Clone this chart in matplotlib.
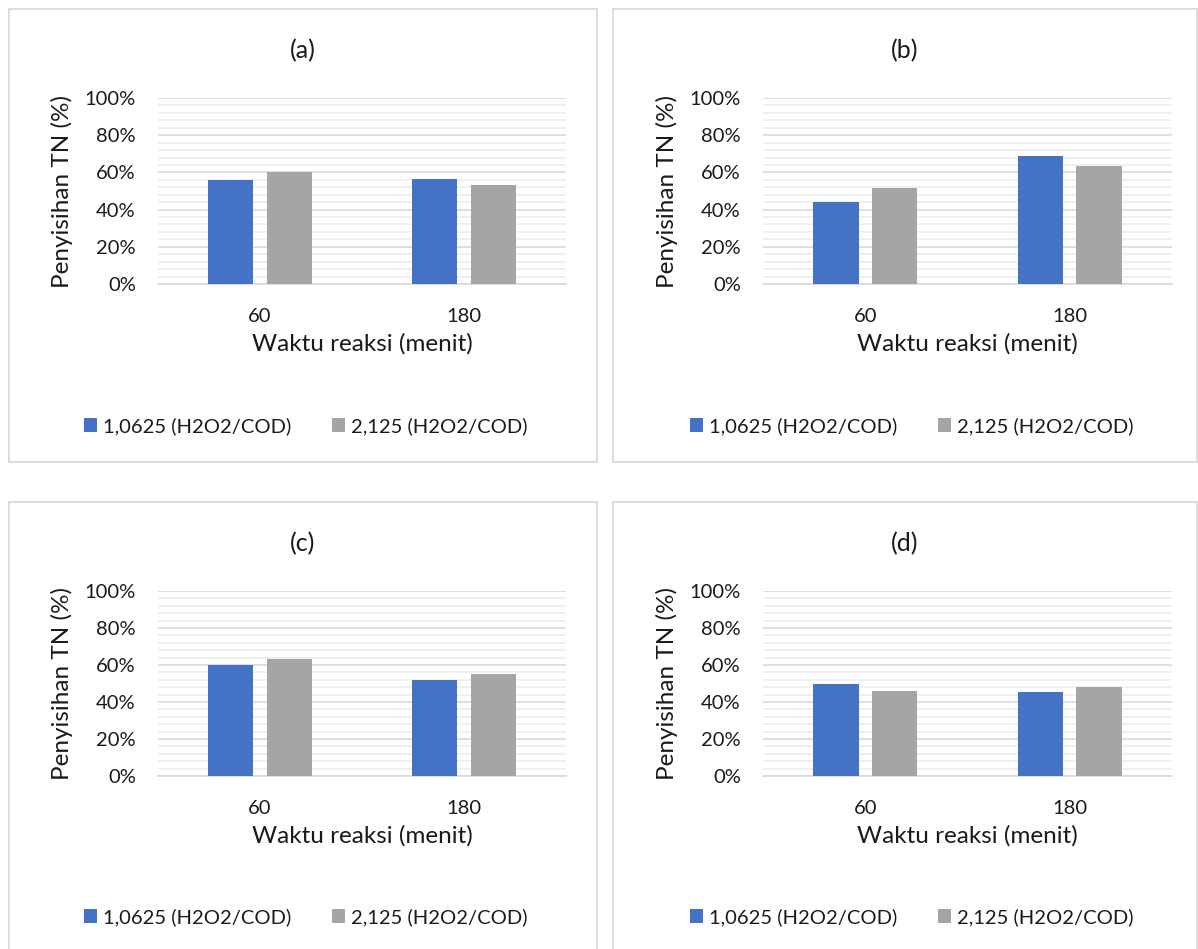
import numpy as np
import matplotlib
matplotlib.use('Agg')
import matplotlib.pyplot as plt
from matplotlib.patches import Rectangle
from matplotlib.ticker import MultipleLocator, FuncFormatter

plt.rcParams['font.family'] = ['Lato', 'DejaVu Sans']

# data (percent removal of TN)
times = ['60', '180']
series_names = ['1,0625 (H2O2/COD)', '2,125 (H2O2/COD)']
panel_titles = ['(a)', '(b)', '(c)', '(d)']
a_low = [55.7, 56.2]
a_high = [60.2, 53.0]
b_low = [44.3, 68.6]
b_high = [51.5, 63.6]
c_low = [59.8, 51.7]
c_high = [63.2, 55.0]
d_low = [49.7, 45.2]
d_high = [45.9, 48.1]

W, H = 1198, 949
BLUE = '#4472C4'
GRAY = '#A5A5A5'
GRID = '#D9D9D9'
MINOR = '#EDEDED'
TXT = '#1a1a1a'

fig = plt.figure(figsize=(W / 100, H / 100), dpi=100)


def px_rect(x0, y0, x1, y1):
    return [x0 / W, 1 - y1 / H, (x1 - x0) / W, (y1 - y0) / H]


def draw_panel(box, axbox, title, title_y, legend_y, low, high):
    # outer frame of the chart
    bx = px_rect(*box)
    fig.patches.append(Rectangle((bx[0], bx[1]), bx[2], bx[3], transform=fig.transFigure,
                                 fill=False, edgecolor=GRID, lw=1.3))
    ax = fig.add_axes(px_rect(*axbox))
    x = np.arange(len(times))
    ax.bar(x - 0.143, low, width=0.222, color=BLUE, label=series_names[0], zorder=3)
    ax.bar(x + 0.143, high, width=0.222, color=GRAY, label=series_names[1], zorder=3)
    ax.set_xlim(-0.5, 1.5)
    ax.set_ylim(0, 100)
    ax.yaxis.set_major_locator(MultipleLocator(20))
    ax.yaxis.set_minor_locator(MultipleLocator(4))
    ax.yaxis.set_major_formatter(FuncFormatter(lambda v, p: '%d%%' % v))
    ax.grid(axis='y', which='major', color=GRID, lw=1.2, zorder=0)
    ax.grid(axis='y', which='minor', color=MINOR, lw=1.2, zorder=0)
    ax.set_axisbelow(True)
    for s in ['top', 'right', 'left']:
        ax.spines[s].set_visible(False)
    ax.spines['bottom'].set_color(GRID)
    ax.spines['bottom'].set_linewidth(1.2)
    ax.set_xticks(x)
    ax.set_xticklabels(times)
    ax.tick_params(axis='both', which='both', length=0, labelsize=14.5, colors=TXT)
    ax.tick_params(axis='x', pad=17)
    ax.tick_params(axis='y', pad=16)
    ax.set_xlabel('Waktu reaksi (menit)', fontsize=17.5, color=TXT, labelpad=6)
    ax.set_ylabel('Penyisihan TN (%)', fontsize=17.5, color=TXT, labelpad=8)
    cx = (box[0] + box[2]) / 2
    fig.text(cx / W, 1 - title_y / H, title, ha='center', va='center', fontsize=18, color=TXT)
    cx_leg = (axbox[0] + axbox[2]) / 2 - 56
    ax.legend(loc='center', bbox_to_anchor=(cx_leg / W, 1 - legend_y / H), bbox_transform=fig.transFigure,
              ncol=2, frameon=False, fontsize=14.5, handlelength=0.65, handleheight=0.75,
              handletextpad=0.3, columnspacing=2.0, labelcolor=TXT)
    return ax


draw_panel((9, 9, 597, 462), (158, 98, 566, 284), panel_titles[0], 51, 426, a_low, a_high)
draw_panel((613, 9, 1197, 462), (763, 98, 1172, 284), panel_titles[1], 51, 426, b_low, b_high)
draw_panel((9, 502, 597, 960), (158, 591, 566, 776), panel_titles[2], 544, 917, c_low, c_high)
draw_panel((613, 502, 1197, 960), (763, 591, 1172, 776), panel_titles[3], 544, 917, d_low, d_high)

fig.savefig('out.png', dpi=100, facecolor='white')
